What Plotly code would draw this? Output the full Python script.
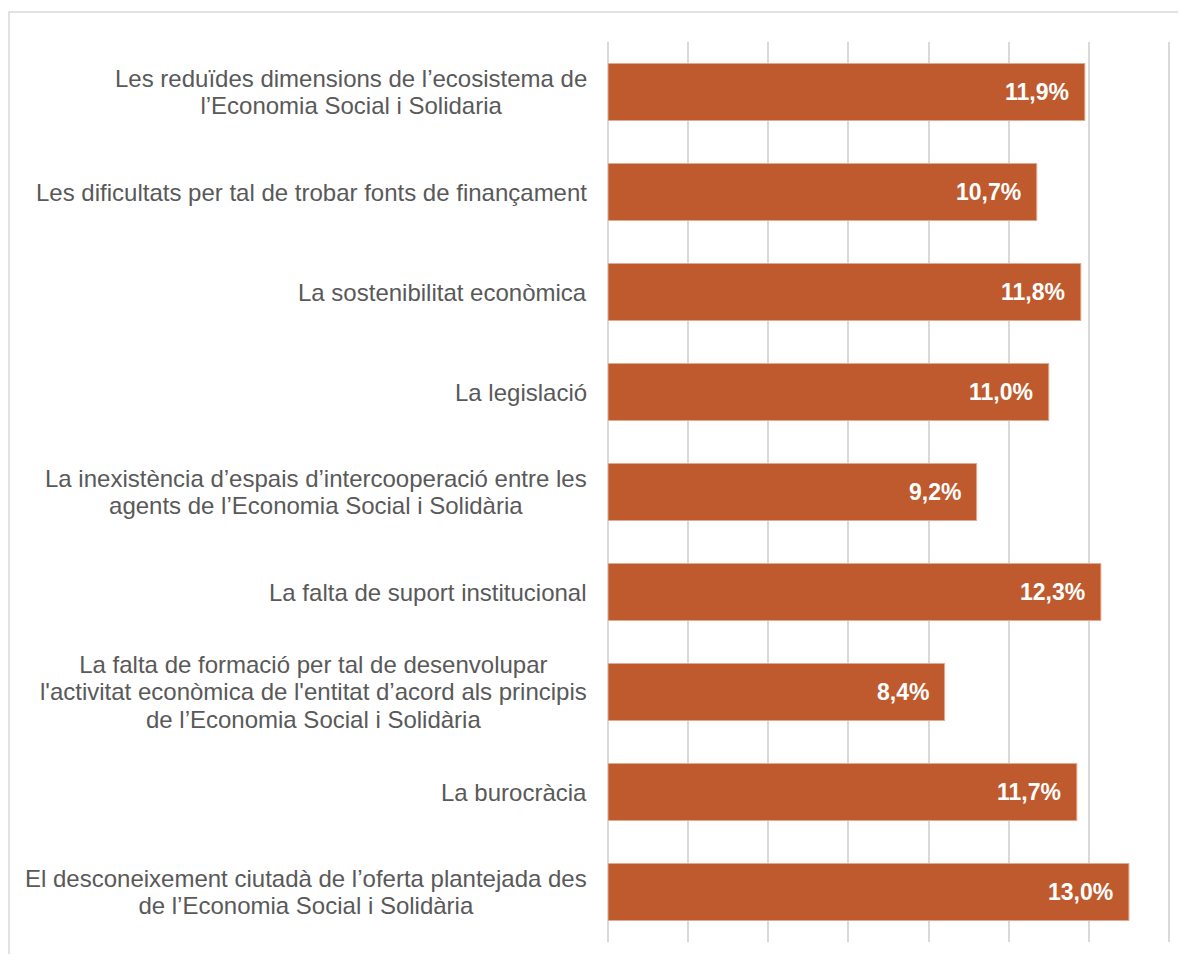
import plotly.graph_objects as go

categories = [
    "Les reduïdes dimensions de l’ecosistema de<br>l’Economia Social i Solidaria",
    "Les dificultats per tal de trobar fonts de finançament",
    "La sostenibilitat econòmica",
    "La legislació",
    "La inexistència d’espais d’intercooperació entre les<br>agents de l’Economia Social i Solidària",
    "La falta de suport institucional",
    "La falta de formació per tal de desenvolupar<br>l'activitat econòmica de l'entitat d’acord als principis<br>de l’Economia Social i Solidària",
    "La burocràcia",
    "El desconeixement ciutadà de l’oferta plantejada des<br>de l’Economia Social i Solidària",
]
values = [11.9, 10.7, 11.8, 11.0, 9.2, 12.3, 8.4, 11.7, 13.0]

# page has an 8px body margin, so the figure is a bit smaller than the window
x_max = 14.05
W, H = 1170, 946
ML, MT = 600, 34
pw, ph = round(561 * x_max / 14), 900
MR, MB = W - ML - pw, H - MT - ph

bar_color = "#BE5A2D"
grid_color = "#D9D9D9"
font_family = "Liberation Sans, Arial, sans-serif"

fig = go.Figure(go.Bar(
    x=values,
    y=categories,
    orientation="h",
    marker=dict(color=bar_color, line=dict(color="#E3A98E", width=1)),
    width=0.57,
    hoverinfo="skip",
))

annotations = []
for cat, v in zip(categories, values):
    # base size 21 sets the line spacing (~27px), the span enlarges the glyphs
    label = "<br>".join(f'<span style="font-size:24px">{ln}</span>' for ln in cat.split("<br>"))
    annotations.append(dict(
        x=0, xref="paper", y=cat, yref="y",
        text=label, showarrow=False, xanchor="right", align="center",
        xshift=-19,
        font=dict(family=font_family, size=21, color="#595959"),
    ))
    annotations.append(dict(
        x=v, xref="x", y=cat, yref="y",
        text=f"{v:.1f}".replace(".", ",") + "%", showarrow=False,
        xanchor="right", xshift=-14,
        font=dict(family=font_family, size=23, color="white", weight="bold"),
    ))

fig.update_layout(
    width=W, height=H,
    margin=dict(l=ML, r=MR, t=MT, b=MB),
    paper_bgcolor="white", plot_bgcolor="white",
    showlegend=False,
    annotations=annotations,
    shapes=[dict(
        type="rect", xref="paper", yref="paper", layer="below",
        x0=(1 - ML) / pw, x1=(W + 20 - ML) / pw,
        y0=-(MB + 20) / ph, y1=1 + (MT - 4) / ph,
        line=dict(color=grid_color, width=1.5),
    )],
)
fig.update_xaxes(range=[0, x_max], tickvals=[0, 2, 4, 6, 8, 10, 12, 14], showgrid=True,
                 gridcolor=grid_color, gridwidth=1.5, showticklabels=False,
                 zeroline=True, zerolinecolor=grid_color, zerolinewidth=1.5, showline=False)
fig.update_yaxes(autorange="reversed", showticklabels=False, showgrid=False, showline=False)

fig.write_html("out.html")
